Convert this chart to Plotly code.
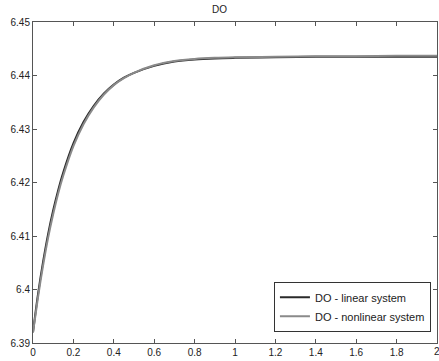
import plotly.graph_objects as go

t = [0, 0.01, 0.025, 0.05, 0.075, 0.1, 0.125, 0.15, 0.2, 0.25, 0.3, 0.35, 0.4, 0.45, 0.5, 0.6, 0.7, 0.8, 0.9, 1.0, 1.2, 1.4, 1.6, 1.8, 2.0]
do_linear = [6.3920, 6.3950, 6.3992, 6.4052, 6.4104, 6.4148, 6.4186, 6.4219, 6.4273, 6.4313, 6.4343, 6.4366, 6.4383, 6.4396, 6.4405, 6.4418, 6.4426, 6.4430, 6.4432, 6.4433, 6.4434, 6.4435, 6.4435, 6.4435, 6.4435]
do_nonlinear = [6.3920, 6.3946, 6.3986, 6.4045, 6.4097, 6.4141, 6.4180, 6.4213, 6.4268, 6.4309, 6.4340, 6.4364, 6.4382, 6.4395, 6.4405, 6.4419, 6.4427, 6.4431, 6.4433, 6.4434, 6.4435, 6.4436, 6.4436, 6.4437, 6.4437]

x_ticks = [0, 0.2, 0.4, 0.6, 0.8, 1, 1.2, 1.4, 1.6, 1.8, 2]
x_tick_labels = ["0", "0.2", "0.4", "0.6", "0.8", "1", "1.2", "1.4", "1.6", "1.8", "2"]
y_ticks = [6.39, 6.40, 6.41, 6.42, 6.43, 6.44, 6.45]
y_tick_labels = ["6.39", "6.4", "6.41", "6.42", "6.43", "6.44", "6.45"]

tick_font = dict(family="Liberation Sans, Arial", size=10, color="#222222")

fig = go.Figure()
fig.add_trace(go.Scatter(x=t, y=do_linear, mode="lines", name="DO - linear system",
                         line=dict(color="#2a2a2a", width=2, shape="spline")))
fig.add_trace(go.Scatter(x=t, y=do_nonlinear, mode="lines", name="DO - nonlinear system",
                         line=dict(color="#8a8a8a", width=2, shape="spline")))

axis_common = dict(showgrid=False, zeroline=False, showline=True, linecolor="#555555", linewidth=1,
                   mirror="ticks", ticks="inside", ticklen=4, tickcolor="#555555",
                   tickfont=tick_font)

fig.update_layout(
    width=439, height=361,
    margin=dict(l=33, r=2, t=22, b=18),
    paper_bgcolor="white", plot_bgcolor="white",
    title=dict(text="DO", x=0.5, xanchor="center", y=0.975, yanchor="middle",
               font=dict(family="Liberation Sans, Arial", size=10, color="#222222")),
    xaxis=dict(range=[0, 2], tickvals=x_ticks, ticktext=x_tick_labels, **axis_common),
    yaxis=dict(range=[6.39, 6.45], tickvals=y_ticks, ticktext=y_tick_labels, **axis_common),
    legend=dict(x=0.985, y=0.035, xanchor="right", yanchor="bottom",
                bgcolor="white", bordercolor="#333333", borderwidth=1,
                font=dict(family="Liberation Sans, Arial", size=11, color="#222222"),
                tracegroupgap=0, itemwidth=30),
    showlegend=True,
)

# last x tick label sits on the right edge (partly cut, as in the reference)
fig.add_annotation(x=x_ticks[-1], xref="x", y=0, yref="paper", yanchor="top", xanchor="center",
                   text=x_tick_labels[-1], showarrow=False, font=tick_font, yshift=-1)

fig.write_html("out.html", config={"displayModeBar": False},
               post_script="document.body.style.margin='0';document.body.style.padding='0';")
